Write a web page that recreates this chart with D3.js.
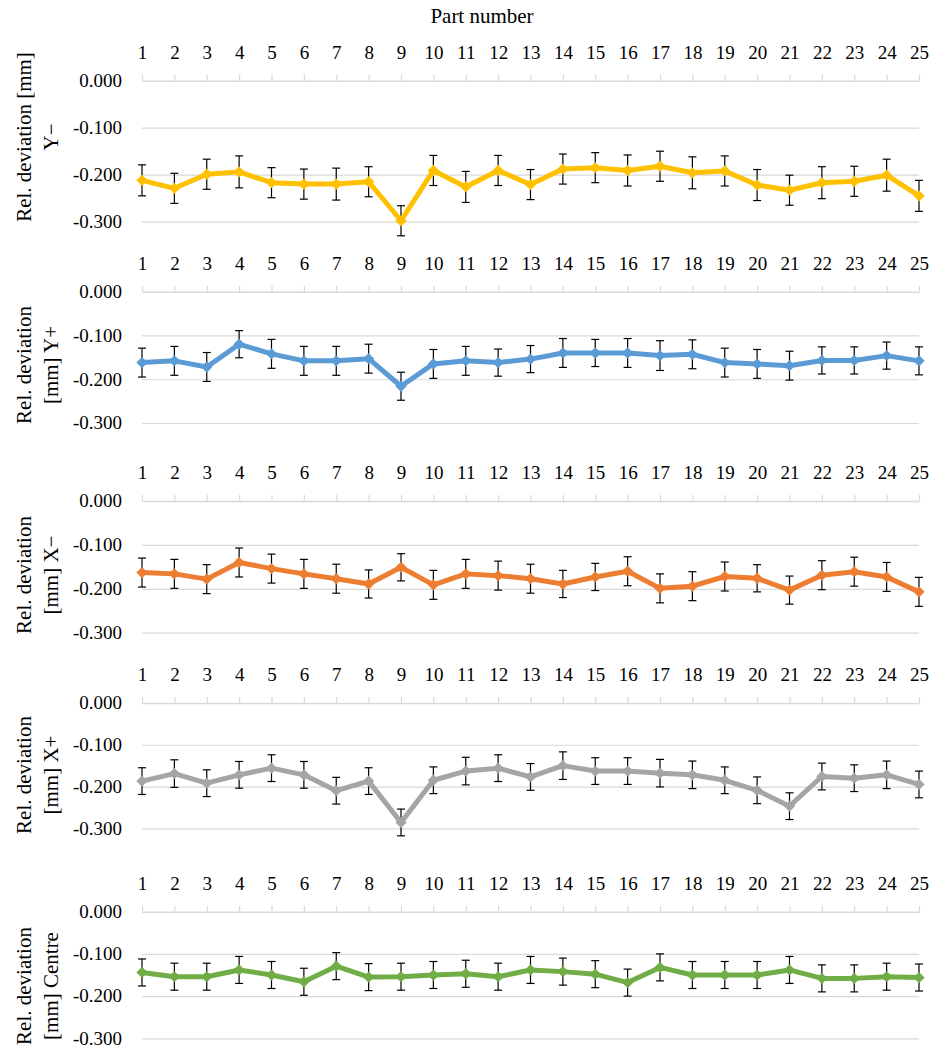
<!DOCTYPE html>
<html lang="en">
<head>
<meta charset="UTF-8" />
<title>Relative deviation per part</title>
<script src="https://d3js.org/d3.v7.min.js"></script>
<style>
  body { margin: 0; background: #fff; }
  .grid line { stroke: #d9d9d9; stroke-width: 1.2; }
  .grid .domain { display: none; }
</style>
</head>
<body>
<svg id="chart" width="936" height="1050"></svg>
<script>
// part numbers (x categories)
const parts = [1, 2, 3, 4, 5, 6, 7, 8, 9, 10, 11, 12, 13, 14, 15, 16, 17, 18, 19, 20, 21, 22, 23, 24, 25];
const yTicks = [0, -0.1, -0.2, -0.3];

// mean relative deviation [mm] and error (+/-) per part
const yMinus = [-0.212, -0.229, -0.199, -0.194, -0.217, -0.220, -0.220, -0.215, -0.298, -0.191, -0.226, -0.191, -0.221, -0.188, -0.185, -0.191, -0.182, -0.196, -0.192, -0.222, -0.233, -0.217, -0.214, -0.201, -0.245];
const yMinusErr = [0.033, 0.032, 0.032, 0.034, 0.032, 0.032, 0.034, 0.032, 0.032, 0.032, 0.033, 0.032, 0.032, 0.032, 0.032, 0.033, 0.032, 0.034, 0.032, 0.033, 0.032, 0.034, 0.032, 0.034, 0.033];

const yPlus = [-0.162, -0.158, -0.172, -0.120, -0.142, -0.158, -0.158, -0.153, -0.216, -0.165, -0.158, -0.162, -0.154, -0.140, -0.140, -0.140, -0.146, -0.143, -0.162, -0.165, -0.169, -0.157, -0.157, -0.146, -0.158];
const yPlusErr = [0.033, 0.033, 0.033, 0.031, 0.033, 0.033, 0.033, 0.033, 0.032, 0.033, 0.033, 0.031, 0.031, 0.033, 0.031, 0.033, 0.034, 0.033, 0.033, 0.033, 0.033, 0.031, 0.031, 0.031, 0.032];

const xMinus = [-0.163, -0.166, -0.178, -0.140, -0.154, -0.166, -0.177, -0.189, -0.151, -0.191, -0.166, -0.170, -0.177, -0.189, -0.173, -0.160, -0.199, -0.194, -0.172, -0.176, -0.203, -0.169, -0.161, -0.173, -0.207];
const xMinusErr = [0.033, 0.033, 0.033, 0.033, 0.033, 0.033, 0.033, 0.032, 0.031, 0.033, 0.033, 0.033, 0.033, 0.031, 0.031, 0.033, 0.033, 0.033, 0.033, 0.031, 0.032, 0.033, 0.033, 0.033, 0.033];

const xPlus = [-0.187, -0.169, -0.192, -0.172, -0.156, -0.172, -0.210, -0.187, -0.286, -0.185, -0.163, -0.156, -0.177, -0.150, -0.163, -0.163, -0.168, -0.172, -0.185, -0.209, -0.247, -0.176, -0.180, -0.172, -0.195];
const xPlusErr = [0.032, 0.033, 0.032, 0.032, 0.032, 0.032, 0.032, 0.032, 0.032, 0.032, 0.033, 0.032, 0.032, 0.033, 0.032, 0.032, 0.033, 0.033, 0.032, 0.032, 0.032, 0.032, 0.032, 0.033, 0.032];

const centre = [-0.144, -0.154, -0.154, -0.138, -0.150, -0.166, -0.129, -0.155, -0.154, -0.150, -0.147, -0.154, -0.138, -0.142, -0.148, -0.168, -0.132, -0.150, -0.150, -0.150, -0.138, -0.158, -0.158, -0.154, -0.156];
const centreErr = [0.032, 0.032, 0.032, 0.032, 0.032, 0.032, 0.032, 0.032, 0.032, 0.032, 0.032, 0.032, 0.032, 0.032, 0.032, 0.032, 0.032, 0.032, 0.032, 0.032, 0.032, 0.032, 0.032, 0.032, 0.032];

// panel layout: values, title lines, colour, pixel rows of 0 and -0.3, title centre
const panels = [
  { values: yMinus, errs: yMinusErr, title: ["Rel. deviation [mm]", "Y\u2212"], color: "#FFC000", top: 80.7, bottom: 221.7, titleMid: 137 },
  { values: yPlus, errs: yPlusErr, title: ["Rel. deviation", "[mm] Y+"], color: "#5B9BD5", top: 291.7, bottom: 423, titleMid: 365 },
  { values: xMinus, errs: xMinusErr, title: ["Rel. deviation", "[mm] X\u2212"], color: "#ED7D31", top: 501, bottom: 632.7, titleMid: 575 },
  { values: xPlus, errs: xPlusErr, title: ["Rel. deviation", "[mm] X+"], color: "#A5A5A5", top: 703, bottom: 828.3, titleMid: 775 },
  { values: centre, errs: centreErr, title: ["Rel. deviation", "[mm] Centre"], color: "#70AD47", top: 911.7, bottom: 1038.3, titleMid: 986 }
];

const svg = d3.select("#chart");
const x = d3.scalePoint().domain(parts).range([142, 919]);
const fmt = d => d.toFixed(3); // keep hyphen minus as in the original
const serif = "Liberation Serif";

svg.append("text")
  .attr("x", 482)
  .attr("y", 23)
  .attr("text-anchor", "middle")
  .attr("font-size", 21)
  .attr("font-family", serif)
  .attr("fill", "#000")
  .text("Part number");

panels.forEach(p => {
  const y = d3.scaleLinear().domain([0, -0.3]).range([p.top, p.bottom]);
  const g = svg.append("g");

  // horizontal gridlines
  g.append("g")
    .attr("class", "grid")
    .attr("transform", `translate(${x.range()[0]},0)`)
    .call(d3.axisLeft(y).tickValues(yTicks.slice(1)).tickSize(-(x.range()[1] - x.range()[0])).tickFormat(""));

  // y tick labels
  g.append("g")
    .selectAll("text")
    .data(yTicks)
    .join("text")
    .attr("x", 122)
    .attr("y", d => y(d))
    .attr("dy", "0.33em")
    .attr("text-anchor", "end")
    .attr("font-size", 19)
    .attr("font-family", serif)
    .text(fmt);

  // category axis along 0 with labels on top
  const xa = g.append("g")
    .attr("transform", `translate(0,${y(0)})`)
    .call(d3.axisTop(x).tickSize(6).tickPadding(16).tickSizeOuter(0))
    .attr("font-family", serif)
    .attr("font-size", 19);
  xa.select(".domain").attr("stroke", "#d9d9d9").attr("stroke-width", 1.5);
  xa.selectAll(".tick line").attr("stroke", "#d9d9d9").attr("stroke-width", 1.2);
  xa.selectAll(".tick text").attr("fill", "#000");

  // y axis title (two rotated lines)
  p.title.forEach((t, i) => {
    g.append("text")
      .attr("transform", `translate(${31 + i * 27},${p.titleMid}) rotate(-90)`)
      .attr("text-anchor", "middle")
      .attr("font-size", 21)
      .attr("font-family", serif)
      .text(t);
  });

  const pts = parts.map((k, i) => ({ k, v: p.values[i], e: p.errs[i] }));

  // error bars
  const eb = g.append("g").attr("stroke", "#000").attr("stroke-width", 1.2).attr("fill", "none");
  pts.forEach(d => {
    const cx = x(d.k), y1 = y(d.v + d.e), y2 = y(d.v - d.e);
    eb.append("line").attr("x1", cx).attr("x2", cx).attr("y1", y1).attr("y2", y2);
    eb.append("line").attr("x1", cx - 4).attr("x2", cx + 4).attr("y1", y1).attr("y2", y1);
    eb.append("line").attr("x1", cx - 4).attr("x2", cx + 4).attr("y1", y2).attr("y2", y2);
  });

  // series line
  g.append("path")
    .datum(pts)
    .attr("fill", "none")
    .attr("stroke", p.color)
    .attr("stroke-width", 5)
    .attr("stroke-linejoin", "round")
    .attr("d", d3.line().x(d => x(d.k)).y(d => y(d.v)));

  // diamond markers
  g.append("g")
    .selectAll("path")
    .data(pts)
    .join("path")
    .attr("transform", d => `translate(${x(d.k)},${y(d.v)}) rotate(45)`)
    .attr("d", d3.symbol(d3.symbolSquare, 64))
    .attr("fill", p.color);
});
</script>
</body>
</html>
